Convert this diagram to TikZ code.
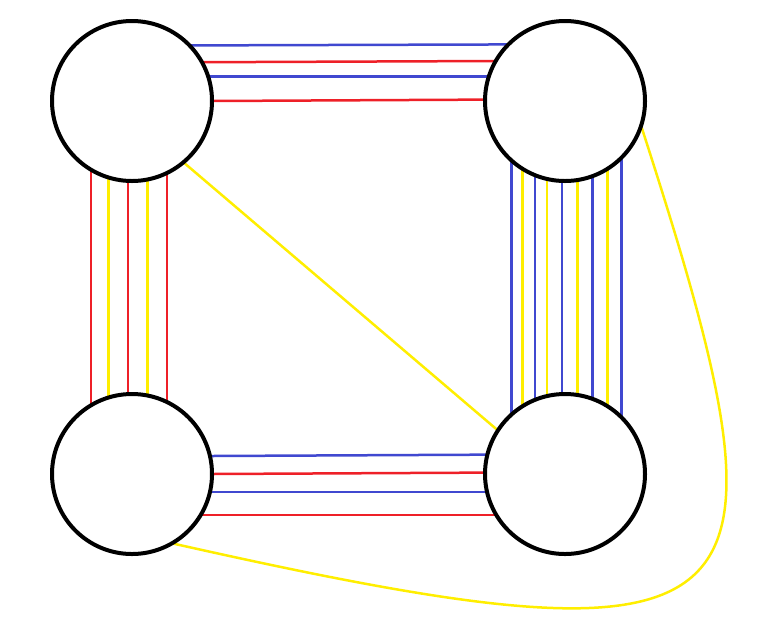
\documentclass[tikz,border=0pt]{standalone}
\usetikzlibrary{backgrounds}
\definecolor{cblue}{RGB}{64,72,208}
\definecolor{cred}{RGB}{238,32,40}
\definecolor{cyel}{RGB}{255,238,0}
\begin{document}
\begin{tikzpicture}[x=1pt,y=-1pt,
  vtx/.style={circle,draw=black,line width=4pt,minimum size=160pt,inner sep=0pt,outer sep=0pt},
  eb/.style={draw=cblue,line width=2.5pt},
  er/.style={draw=cred,line width=2.5pt},
  ey/.style={draw=cyel,line width=2.5pt}]
\useasboundingbox (0,0) rectangle (759,641);
\node[vtx] (tl) at (132,101) {};
\node[vtx] (tr) at (565,101) {};
\node[vtx] (bl) at (132,474) {};
\node[vtx] (br) at (565,474) {};
\begin{scope}[on background layer]
  % top edges
  \foreach \a/\c in {44.1/eb,29.4/er,18.0/eb,0.7/er}
    \draw[\c] (tl.\a) -- (tr.{180-\a});
  % bottom edges
  \foreach \a/\c in {13.7/eb,0.7/er,-13.3/eb,-31.2/er}
    \draw[\c] (bl.\a) -- (br.{180-\a});
  % left edges
  \foreach \a/\c in {121.9/er,107.5/ey,93.6/er,79.2/ey,64.1/er}
    \draw[\c] (tl.-\a) -- (bl.\a);
  % right edges
  \foreach \a/\c in {132.5/eb,122.5/ey,112.8/eb,103.0/ey,92.9/eb,81.4/ey,70.3/eb,58.3/ey,45.6/eb}
    \draw[\c] (tr.-\a) -- (br.\a);
  % diagonal
  \draw[ey] (tl.-50.3) -- (br.147.1);
  % curve
  \draw[ey] (bl.-60) .. controls +(605,136) and +(163,504) .. (tr.-18);
\end{scope}
\end{tikzpicture}
\end{document}
